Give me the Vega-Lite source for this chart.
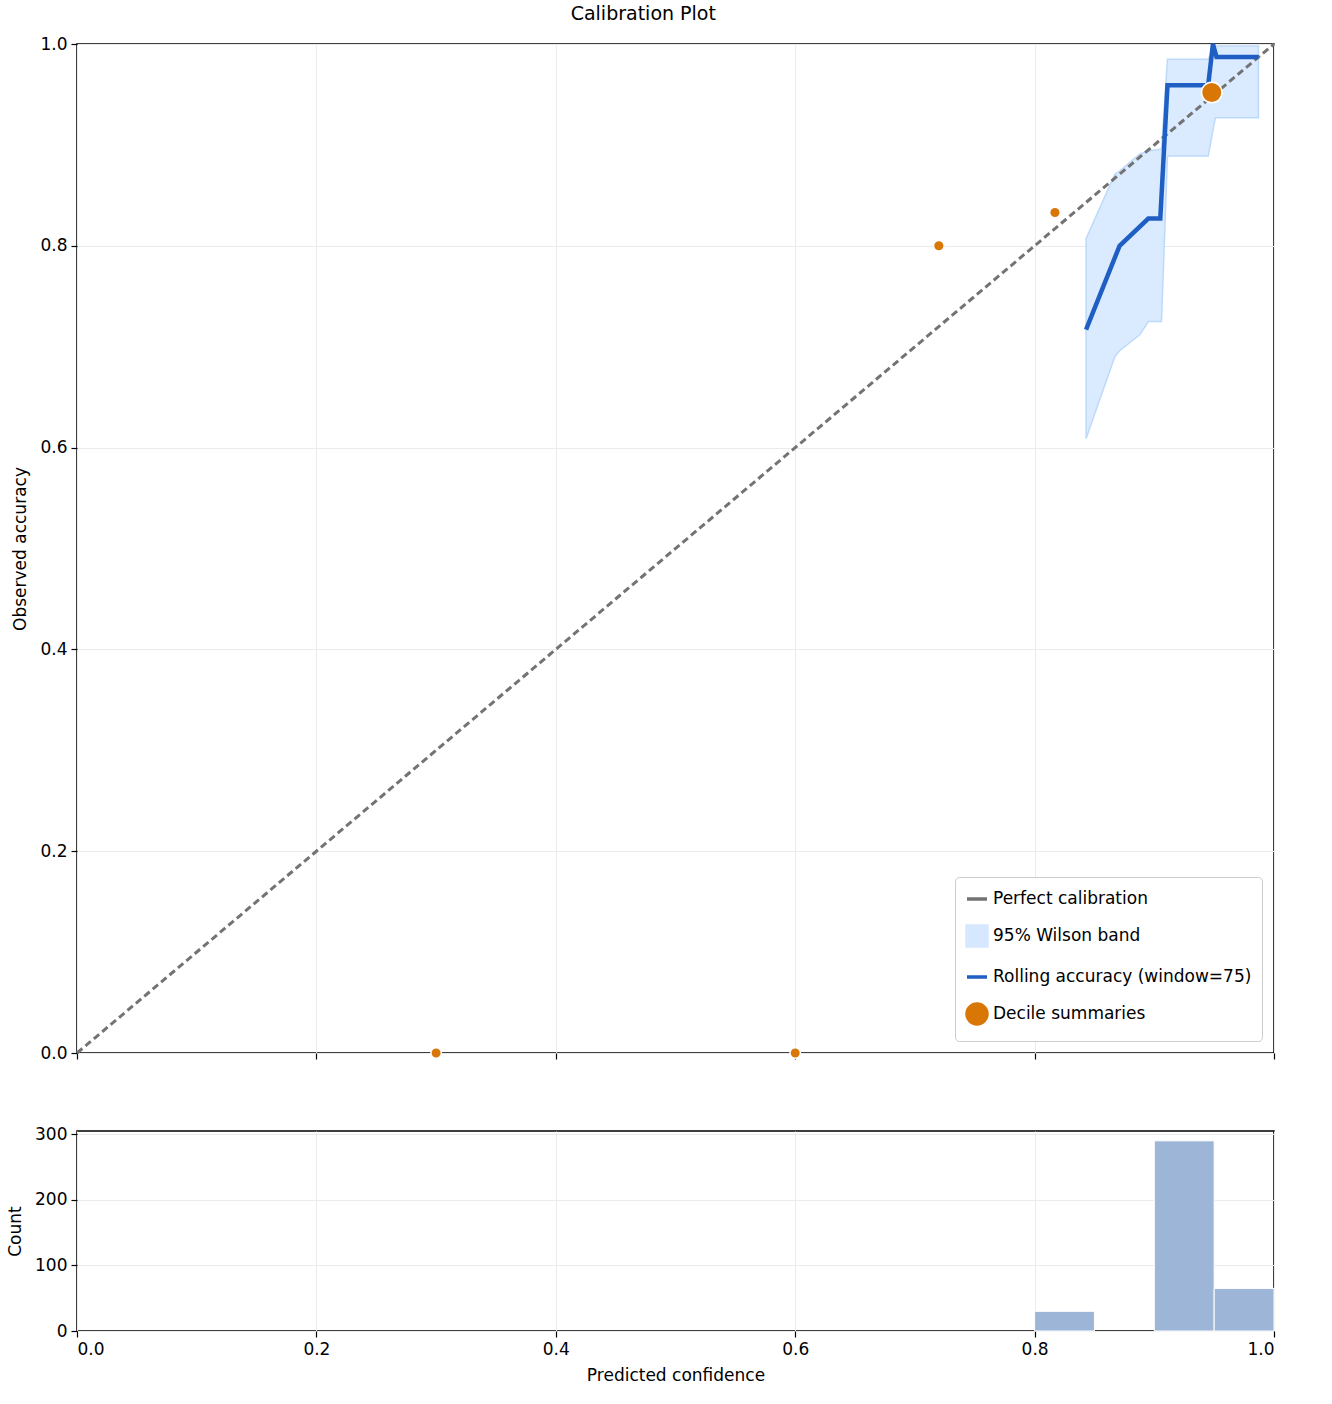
{
  "$schema": "https://vega.github.io/schema/vega-lite/v6.json",
  "title": {"text": "Calibration Plot", "fontSize": 19, "fontWeight": "normal", "font": "DejaVu Sans", "offset": 10, "anchor": "middle"},
  "background": "white",
  "padding": {"left": 5, "top": 5, "right": 25, "bottom": 5},
  "resolve": {"legend": {"color": "independent", "shape": "independent", "size": "independent"}},
  "datasets": {
    "diag": [{"x": 0, "y": 0, "s": "Perfect calibration"}, {"x": 1, "y": 1, "s": "Perfect calibration"}],
    "band": [
      {"x": 0.843, "lo": 0.609, "hi": 0.807},
      {"x": 0.867, "lo": 0.690, "hi": 0.871},
      {"x": 0.871, "lo": 0.696, "hi": 0.874},
      {"x": 0.888, "lo": 0.712, "hi": 0.891},
      {"x": 0.895, "lo": 0.725, "hi": 0.894},
      {"x": 0.906, "lo": 0.725, "hi": 0.896},
      {"x": 0.911, "lo": 0.889, "hi": 0.985},
      {"x": 0.945, "lo": 0.889, "hi": 0.985},
      {"x": 0.951, "lo": 0.927, "hi": 0.998},
      {"x": 0.987, "lo": 0.927, "hi": 0.998}
    ],
    "roll": [
      {"x": 0.843, "y": 0.717},
      {"x": 0.871, "y": 0.800},
      {"x": 0.895, "y": 0.827},
      {"x": 0.905, "y": 0.827},
      {"x": 0.911, "y": 0.959},
      {"x": 0.945, "y": 0.959},
      {"x": 0.949, "y": 1.0},
      {"x": 0.952, "y": 0.987},
      {"x": 0.987, "y": 0.987}
    ],
    "deciles": [
      {"x": 0.30, "y": 0.0, "n": 1},
      {"x": 0.60, "y": 0.0, "n": 1},
      {"x": 0.72, "y": 0.80, "n": 5},
      {"x": 0.817, "y": 0.833, "n": 6},
      {"x": 0.948, "y": 0.952, "n": 375}
    ],
    "hist": [
      {"b0": 0.80, "b1": 0.85, "count": 30},
      {"b0": 0.90, "b1": 0.95, "count": 290},
      {"b0": 0.95, "b1": 1.00, "count": 65}
    ]
  },
  "vconcat": [
    {
      "width": 1197,
      "height": 1009,
      "layer": [
        {
          "data": {"name": "band"},
          "mark": {"type": "area", "color": "#d6e8ff", "stroke": "#b8d6fb", "strokeWidth": 1.5, "opacity": 0.9},
          "encoding": {
            "x": {"field": "x", "type": "quantitative"},
            "y": {"field": "lo", "type": "quantitative"},
            "y2": {"field": "hi"}
          }
        },
        {
          "data": {"name": "diag"},
          "mark": {"type": "line", "strokeDash": [7, 4], "strokeWidth": 3},
          "encoding": {
            "x": {"field": "x", "type": "quantitative", "scale": {"domain": [0, 1], "nice": false},
              "axis": {"labels": false, "title": null, "tickCount": 5, "grid": true}},
            "y": {"field": "y", "type": "quantitative", "scale": {"domain": [0, 1], "nice": false},
              "axis": {"title": "Observed accuracy", "tickCount": 5, "format": ".1f", "labelFontSize": 17, "titleFontSize": 17}},
            "color": {"field": "s", "type": "nominal",
              "scale": {"domain": ["Perfect calibration", "95% Wilson band", "Rolling accuracy (window=75)", "Decile summaries"],
                "range": ["#737373", "#d6e8ff", "#1f5fc4", "#d97706"]},
              "legend": {"title": null, "orient": "bottom-right", "offset": 12, "labelFontSize": 17, "symbolSize": 400, "labelLimit": 500,
                "symbolStrokeWidth": 3.5, "strokeColor": "#cccccc", "fillColor": "white", "padding": 10, "rowPadding": 12, "cornerRadius": 4,
                "labelFont": "DejaVu Sans"}},
            "shape": {"field": "s", "type": "nominal",
              "scale": {"domain": ["Perfect calibration", "95% Wilson band", "Rolling accuracy (window=75)", "Decile summaries"],
                "range": ["stroke", "square", "stroke", "circle"]}}
          }
        },
        {
          "data": {"name": "roll"},
          "mark": {"type": "line", "color": "#1f5fc4", "strokeWidth": 4.5},
          "encoding": {
            "x": {"field": "x", "type": "quantitative"},
            "y": {"field": "y", "type": "quantitative"}
          }
        },
        {
          "data": {"name": "deciles"},
          "mark": {"type": "circle", "color": "#d97706", "opacity": 1, "stroke": "white", "strokeWidth": 1.5},
          "encoding": {
            "x": {"field": "x", "type": "quantitative"},
            "y": {"field": "y", "type": "quantitative"},
            "size": {"field": "n", "type": "quantitative", "scale": {"domain": [1, 375], "range": [110, 420]}, "legend": null}
          }
        }
      ]
    },
    {
      "width": 1197,
      "height": 200,
      "data": {"name": "hist"},
      "mark": {"type": "rect", "color": "#9db5d6", "stroke": "white", "strokeWidth": 1},
      "encoding": {
        "x": {"field": "b0", "type": "quantitative", "scale": {"domain": [0, 1], "nice": false},
          "axis": {"title": "Predicted confidence", "tickCount": 5, "format": ".1f", "labelFontSize": 17, "titleFontSize": 17}},
        "x2": {"field": "b1"},
        "y": {"field": "count", "type": "quantitative", "scale": {"domain": [0, 305], "nice": false},
          "axis": {"title": "Count", "values": [0, 100, 200, 300], "labelFontSize": 17, "titleFontSize": 17}},
        "y2": {"datum": 0}
      }
    }
  ],
  "spacing": 62,
  "config": {
    "font": "DejaVu Sans",
    "view": {"stroke": "black", "strokeWidth": 1.5},
    "axis": {"labelFontSize": 17, "titleFontSize": 17, "titleFontWeight": "normal", "labelColor": "black", "titleColor": "black",
      "domain": false, "tickColor": "black", "tickSize": 6, "tickWidth": 1.2, "gridColor": "#ebebeb", "labelPadding": 4, "titlePadding": 10}
  }
}
